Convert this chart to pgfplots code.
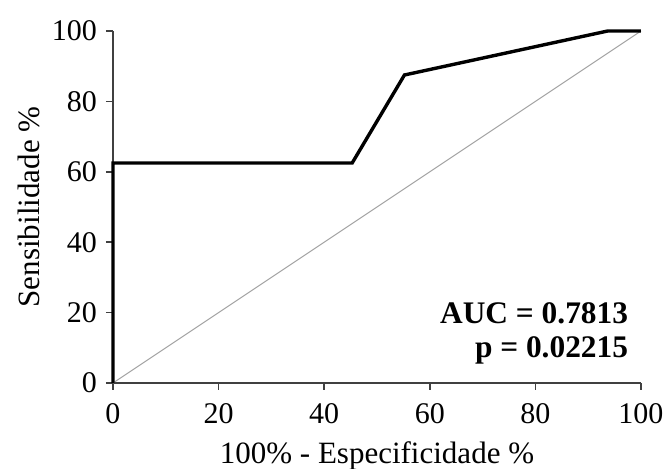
\documentclass[border=0pt]{standalone}
\usepackage{pgfplots}
\pgfplotsset{compat=1.18}
\usepackage{fontspec}
\setmainfont{Liberation Serif}
\begin{document}
\begin{tikzpicture}
\begin{axis}[
  name=ax,
  scale only axis,
  width=264pt, height=176pt,
  xmin=0, xmax=100, ymin=0, ymax=100,
  axis lines*=left,
  axis line style={draw=black!75, line width=0.8pt},
  xtick={0,20,...,100}, ytick={0,20,...,100},
  tick style={draw=black!75, line width=0.8pt},
  tick align=outside, major tick length=3.5pt,
  /pgf/number format/assume math mode=true,
  ticklabel style={font=\fontsize{15}{18}\selectfont},
  xticklabel style={yshift=-3pt},
  yticklabel style={xshift=-1pt},
  label style={font=\fontsize{15.5}{18}\selectfont},
  xlabel={100\% - Especificidade \%},
  ylabel={Sensibilidade \%},
  xlabel style={at={(axis description cs:0.5,-0.208)}, anchor=center},
  ylabel style={at={(axis description cs:-0.16,0.5)}, anchor=center},
  clip=false,
]
\addplot[black!35, line width=0.5pt] coordinates {(0,0) (100,100)};
\addplot[black, line width=1.7pt, line join=miter] coordinates {
  (0,0) (0,62.5) (45.3,62.5) (55.2,87.5) (93.7,100) (100,100)};
\node[anchor=east, font=\bfseries\fontsize{15.7}{18}\selectfont] at (axis cs:98.9,19.9) {AUC = 0.7813};
\node[anchor=east, font=\bfseries\fontsize{15.7}{18}\selectfont] at (axis cs:98.9,9.4) {p = 0.02215};
\end{axis}
\pgfresetboundingbox
\path ([xshift=-56.5pt,yshift=-43pt]ax.south west) rectangle ([xshift=12.5pt,yshift=15.5pt]ax.north east);
\end{tikzpicture}
\end{document}
